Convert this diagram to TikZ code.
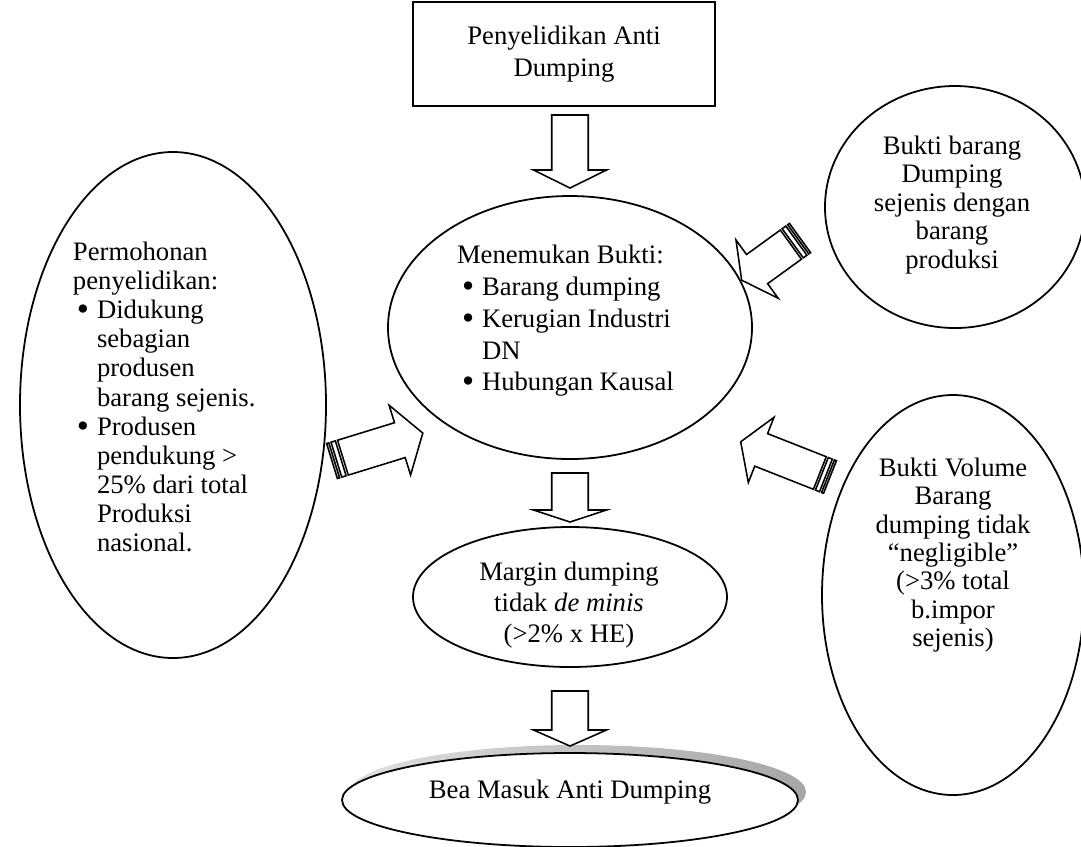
\documentclass[tikz,border=0pt]{standalone}
\usepackage{fontspec}
\setmainfont{Liberation Serif}
\usetikzlibrary{shapes.geometric}
\newcommand{\stripedarrow}[5]{%
  \begin{scope}[shift={#1}, rotate=#2]
    \draw[arrowline] ({5*#4/32},{-#4/4}) -- ({#3-#5},{-#4/4}) -- ({#3-#5},{-#4/2}) -- (#3,0)
      -- ({#3-#5},{#4/2}) -- ({#3-#5},{#4/4}) -- ({5*#4/32},{#4/4}) -- cycle;
    \draw[arrowline] (0,{-#4/4}) rectangle ({#4/32},{#4/4});
    \draw[arrowline] ({#4/16},{-#4/4}) rectangle ({#4/8},{#4/4});
  \end{scope}}
\newcommand{\blockarrow}[5]{%
  \begin{scope}[shift={#1}, rotate=#2]
    \draw[arrowline] (0,{-#4/4}) -- ({#3-#5},{-#4/4}) -- ({#3-#5},{-#4/2}) -- (#3,0)
      -- ({#3-#5},{#4/2}) -- ({#3-#5},{#4/4}) -- (0,{#4/4}) -- cycle;
  \end{scope}}
\newcommand{\bigbul}{\makebox[9pt][l]{\raisebox{-0.9pt}{\scalebox{1.3}{•}}}}
\begin{document}
\begin{tikzpicture}[x=0.45pt,y=-0.45pt,
  every node/.style={inner sep=0pt, outer sep=0pt},
  oval/.style={ellipse, draw=black, line width=0.8pt, fill=white},
  arrowline/.style={draw=black, fill=white, line width=0.7pt, line join=miter},
  txt/.style={font=\fontsize{12pt}{#1}\selectfont}]
\useasboundingbox (0,0) rectangle (1081,846);
\fill[white] (0,0) rectangle (1081,846);

% top box
\node[draw=black, line width=0.9pt, minimum width=302*0.45pt, minimum height=104*0.45pt] (box) at (564,54) {};
\node[txt=14.4pt, align=center] (tbox) at (564,54) {Penyelidikan Anti\\Dumping};

% ellipses
\node[oval, minimum width=364*0.45pt, minimum height=263*0.45pt] (center) at (570,327.5) {};
\node[oval, minimum width=306*0.45pt, minimum height=506*0.45pt] (left) at (173,405) {};
\node[oval, minimum width=260*0.45pt, minimum height=242*0.45pt] (rtop) at (955,207) {};
\node[oval, minimum width=262*0.45pt, minimum height=400*0.45pt] (rbot) at (953,595) {};
\node[oval, minimum width=314*0.45pt, minimum height=140*0.45pt] (margin) at (570,597) {};
\node[ellipse, minimum width=456*0.45pt, minimum height=94*0.45pt, left color=gray!25, right color=gray!70] (shadow) at (578,792) {};
\node[oval, minimum width=456*0.45pt, minimum height=94*0.45pt] (bea) at (570,800) {};

% texts
\node[txt=14.3pt, align=left, anchor=west] (tcenter) at (457,321) {Menemukan Bukti:\\
\hspace*{2.25pt}\bigbul Barang dumping\\
\hspace*{2.25pt}\bigbul Kerugian Industri\\
\hspace*{11.25pt}DN\\
\hspace*{2.25pt}\bigbul Hubungan Kausal};
\node[txt=13.1pt, align=left, anchor=west] (tleft) at (73,397) {Permohonan\\penyelidikan:\\
\hspace*{1.8pt}\bigbul Didukung\\
\hspace*{10.8pt}sebagian\\
\hspace*{10.8pt}produsen\\
\hspace*{10.8pt}barang sejenis.\\
\hspace*{1.8pt}\bigbul Produsen\\
\hspace*{10.8pt}pendukung >\\
\hspace*{10.8pt}25\% dari total\\
\hspace*{10.8pt}Produksi\\
\hspace*{10.8pt}nasional.};
\node[txt=12.8pt, align=center] (trtop) at (952,205) {Bukti barang\\Dumping\\sejenis dengan\\barang\\produksi};
\node[txt=12.75pt, align=center] (trbot) at (953,555) {Bukti Volume\\Barang\\dumping tidak\\“negligible”\\(>3\% total\\b.impor\\sejenis)};
\node[txt=14pt, align=center] (tmargin) at (569,605) {Margin dumping\\tidak \textit{de minis}\\(>2\% x HE)};
\node[txt=14.4pt] (tbea) at (570,792) {Bea Masuk Anti Dumping};

% block arrows
\coordinate (a1) at (570,115);
\coordinate (a2) at (570,473);
\coordinate (a3) at (570,691);
\coordinate (s1) at (332,461);
\coordinate (s2) at (800,238);
\coordinate (s3) at (830,477);
\blockarrow{(a1)}{-90}{73}{73}{18}
\blockarrow{(a2)}{-90}{49}{73}{12}
\blockarrow{(a3)}{-90}{55}{73}{16}
\stripedarrow{(s1)}{17.1}{95}{73}{24}
\stripedarrow{(s2)}{215.9}{72}{72}{19}
\stripedarrow{(s3)}{158.5}{96}{70}{22}
\end{tikzpicture}
\end{document}
